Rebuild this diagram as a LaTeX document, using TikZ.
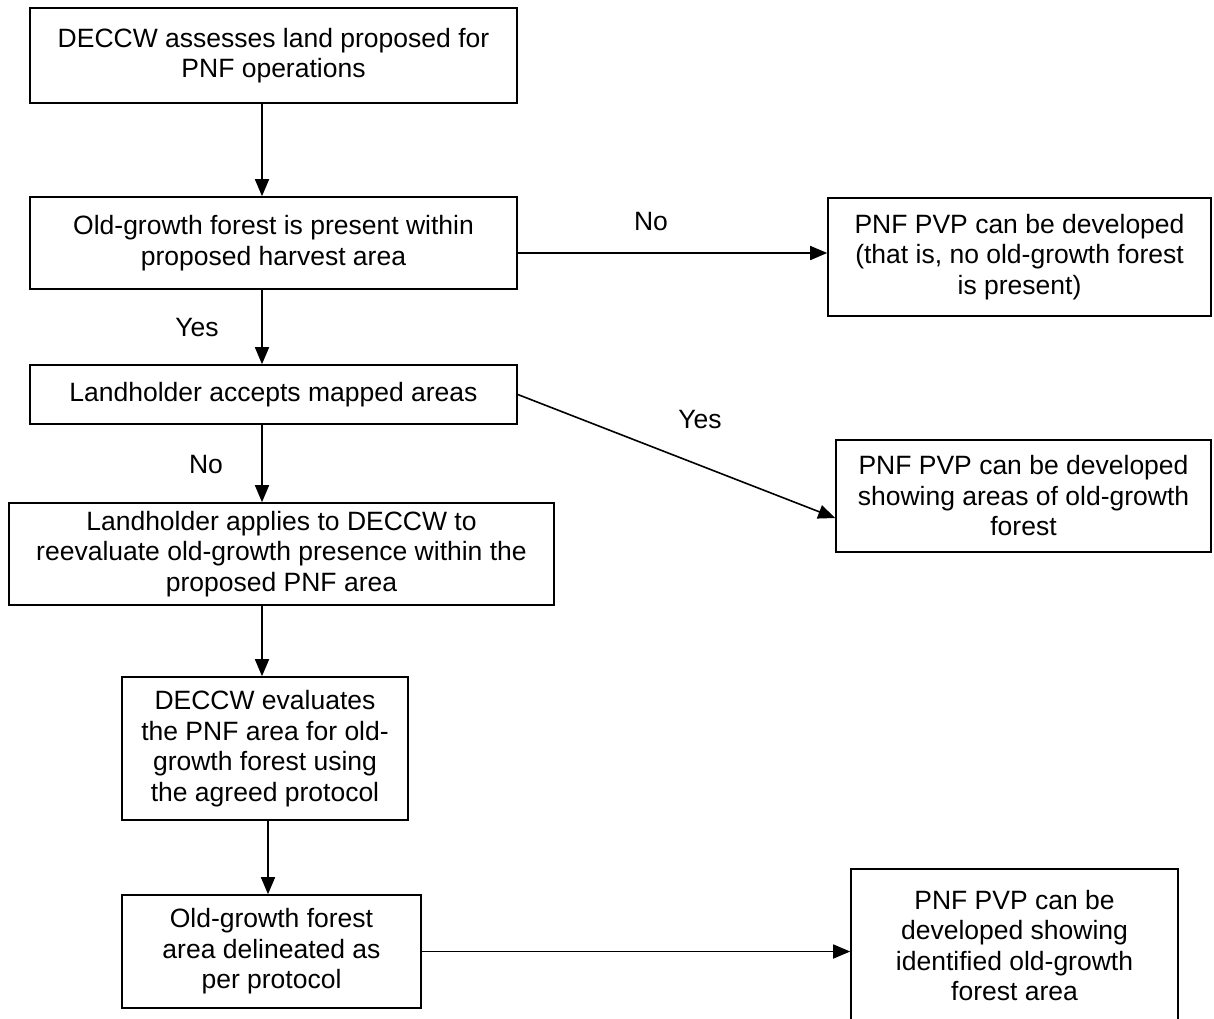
\documentclass[tikz,border=0pt]{standalone}
\usepackage{fontspec}
\setmainfont{Liberation Sans}
\usetikzlibrary{arrows.meta}

\begin{document}
\begin{tikzpicture}[x=1pt, y=-1pt,
	main/.style = {draw, line width=1.6pt, align=center, inner sep=0pt,
		font=\fontsize{26.5}{30.5}\selectfont},
	answer/.style = {font=\fontsize{26.5}{30.5}\selectfont},
	flow/.style = {line width=1.6pt, -{Triangle[length=17pt, width=14pt]}}]
	\useasboundingbox (0,0) rectangle (1214,1018);
	\fill[white] (0,0) rectangle (1214,1018);
	\coordinate (spine) at (262,0);
	\coordinate (spine2) at (268,0);
	% left column
	\node[main, minimum width=487pt, minimum height=95pt] (1) at (273.5,55.5) {DECCW assesses land proposed for\\PNF operations};
	\node[main, minimum width=487pt, minimum height=92pt] (2) at (273.5,243) {Old-growth forest is present within\\proposed harvest area};
	\node[main, minimum width=487pt, minimum height=59pt] (4) at (273.5,394.5) {Landholder accepts mapped areas};
	\node[main, minimum width=545pt, minimum height=102pt] (6) at (281.5,554) {Landholder applies to DECCW to\\reevaluate old-growth presence within the\\proposed PNF area};
	\node[main, minimum width=286pt, minimum height=143pt] (7) at (265,748.5) {DECCW evaluates\\the PNF area for old-\\growth forest using\\the agreed protocol};
	\node[main, minimum width=299pt, minimum height=113pt] (8) at (271.5,951.5) {Old-growth forest\\area delineated as\\per protocol};
	% right column
	\node[main, minimum width=383pt, minimum height=118pt] (3) at (1019.5,257) {PNF PVP can be developed\\(that is, no old-growth forest\\is present)};
	\node[main, minimum width=375pt, minimum height=112pt] (5) at (1023.5,496) {PNF PVP can be developed\\showing areas of old-growth\\forest};
	\node[main, minimum width=327pt, minimum height=153pt] (9) at (1014.5,945.5) {PNF PVP can be\\developed showing\\identified old-growth\\forest area};
	% answers
	\node[answer] (no1) at (651,222) {No};
	\node[answer] (yes1) at (197,328) {Yes};
	\node[answer] (yes2) at (700,420) {Yes};
	\node[answer] (no2) at (206,465) {No};
	% arrows
	\draw[flow] (1.south -| spine) -- (2.north -| spine);
	\draw[flow] (2.south -| spine) -- (4.north -| spine);
	\draw[flow] (4.south -| spine) -- (6.north -| spine);
	\draw[flow] (6.south -| spine) -- (7.north -| spine);
	\draw[flow] (7.south -| spine2) -- (8.north -| spine2);
	\draw[flow] ([yshift=4pt]3.west -| 2.east) -- ([yshift=4pt]3.west);
	\draw[flow] (4.east) -- ([yshift=-22pt]5.west);
	\draw[flow] (8.east) -- (9.west |- 8.east);
\end{tikzpicture}
\end{document}
